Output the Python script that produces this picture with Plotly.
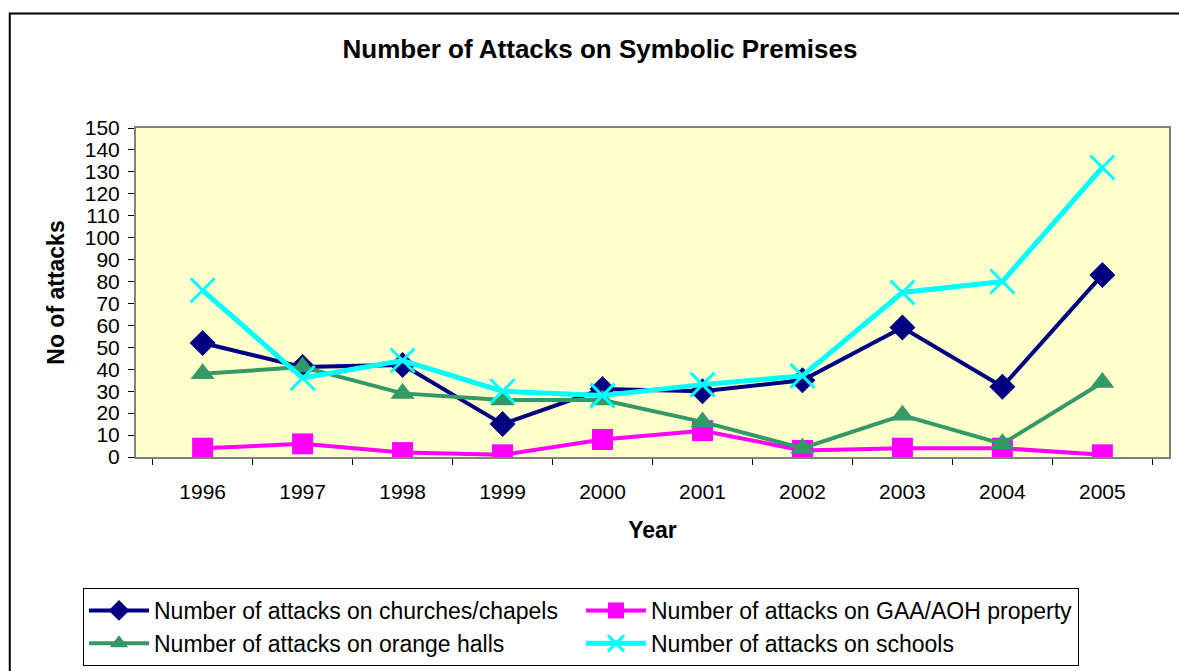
import plotly.graph_objects as go

years = ["1996", "1997", "1998", "1999", "2000", "2001", "2002", "2003", "2004", "2005"]
churches = [52, 41, 42, 15, 31, 30, 35, 59, 32, 83]
gaa_aoh = [4, 6, 2, 1, 8, 12, 3, 4, 4, 1]
orange_halls = [38, 41, 29, 26, 26, 16, 4, 19, 6, 34]
schools = [76, 36, 44, 30, 28, 33, 37, 75, 80, 132]

y_ticks = list(range(0, 151, 10))

FONT = "Liberation Sans, Arial, sans-serif"

fig = go.Figure()

fig.add_trace(go.Scatter(
    x=years, y=churches, mode="lines+markers",
    name="Number of attacks on churches/chapels",
    line=dict(color="#000080", width=4),
    marker=dict(symbol="diamond", size=20, color="#000080"),
))
fig.add_trace(go.Scatter(
    x=years, y=gaa_aoh, mode="lines+markers",
    name="Number of attacks on GAA/AOH property",
    line=dict(color="#FF00FF", width=4),
    marker=dict(symbol="square", size=21, color="#FF00FF"),
))
fig.add_trace(go.Scatter(
    x=years, y=orange_halls, mode="lines+markers",
    name="Number of attacks on orange halls",
    line=dict(color="#339966", width=4),
    marker=dict(symbol="triangle-up", size=21, color="#339966"),
))
fig.add_trace(go.Scatter(
    x=years, y=schools, mode="lines+markers",
    name="Number of attacks on schools",
    line=dict(color="#00FFFF", width=5),
    marker=dict(symbol="x-thin-open", size=24, color="#00FFFF",
                line=dict(color="#00FFFF", width=3)),
))

# outer chart frame
fig.add_shape(type="rect", xref="paper", yref="paper",
              x0=-0.1222, x1=1.3, y0=1.348, y1=-1.0,
              line=dict(color="#000000", width=2), layer="below")

fig.update_layout(
    width=1179, height=671,
    margin=dict(l=136, r=10, t=128, b=214, autoexpand=False),
    paper_bgcolor="white",
    plot_bgcolor="#FFFFCC",
    font=dict(family=FONT, size=20, color="black"),
    title=dict(text="<b>Number of Attacks on Symbolic Premises</b>",
               x=600 / 1179, xanchor="center", xref="container",
               y=1 - 49 / 671, yanchor="middle", yref="container",
               font=dict(family=FONT, size=26, color="black")),
    showlegend=True,
    legend=dict(
        orientation="h", x=(83 - 136) / 1033, xanchor="left",
        y=(457 - 588) / 329, yanchor="top",
        bordercolor="#000000", borderwidth=1, bgcolor="white",
        entrywidth=422, entrywidthmode="pixels",
        font=dict(family=FONT, size=23, color="black"),
        tracegroupgap=0, itemwidth=60,
    ),
)

fig.update_xaxes(
    type="category", tickson="boundaries",
    ticks="outside", ticklen=6, tickcolor="#000000",
    showline=True, linecolor="#808080", linewidth=2, mirror=True,
    showgrid=False, zeroline=False,
    ticklabelstandoff=15,
    tickfont=dict(family=FONT, size=21, color="black"),
    title=dict(text="<b>Year</b>", standoff=20,
               font=dict(family=FONT, size=23, color="black")),
)
fig.update_yaxes(
    range=[0, 150], tickvals=y_ticks,
    ticks="outside", ticklen=6, tickcolor="#000000",
    showline=True, linecolor="#808080", linewidth=2, mirror=True,
    showgrid=False, zeroline=False,
    ticklabelstandoff=4,
    tickfont=dict(family=FONT, size=21, color="black"),
    title=dict(text="<b>No of attacks</b>", standoff=14,
               font=dict(family=FONT, size=23, color="black")),
)

fig.write_html("out.html")
